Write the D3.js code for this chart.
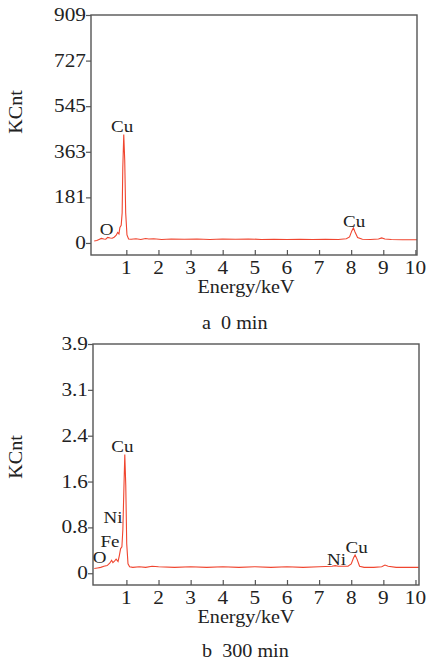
<!DOCTYPE html>
<html>
<head>
<meta charset="utf-8">
<script src="https://d3js.org/d3.v7.min.js"></script>
<style>
  body { margin: 0; background: #fff; }
</style>
</head>
<body>
<svg id="chart" width="427" height="664"></svg>
<script>
// ---- data ----
// panel a: 0 min
const energyA = [0, 0.08, 0.15, 0.22, 0.3, 0.36, 0.42, 0.5, 0.56, 0.62, 0.68, 0.73, 0.77, 0.8, 0.84, 0.87, 0.89, 0.92, 0.95, 0.98, 1.02, 1.07, 1.15, 1.3, 1.45, 1.6, 1.7, 1.85, 2.1, 2.4, 2.8, 3.2, 3.6, 4.0, 4.4, 4.8, 5.2, 5.6, 6.0, 6.4, 6.8, 7.2, 7.6, 7.85, 7.95, 8.02, 8.07, 8.12, 8.2, 8.35, 8.6, 8.85, 8.95, 9.05, 9.25, 9.6, 10.0, 10.05];
const countsA = [8, 10, 14, 18, 16, 15, 22, 20, 19, 23, 30, 42, 36, 62, 70, 120, 300, 432, 330, 120, 32, 16, 15, 17, 14, 18, 16, 17, 14, 16, 15, 16, 14, 16, 15, 16, 14, 15, 14, 15, 14, 15, 14, 17, 24, 48, 60, 44, 22, 15, 14, 16, 20, 16, 14, 13, 13, 13];

// panel b: 300 min
const energyB = [0, 0.1, 0.2, 0.3, 0.4, 0.48, 0.54, 0.58, 0.62, 0.68, 0.74, 0.78, 0.82, 0.86, 0.89, 0.92, 0.95, 0.98, 1.01, 1.05, 1.1, 1.2, 1.4, 1.6, 1.8, 2.0, 2.5, 3.0, 3.5, 4.0, 4.5, 5.0, 5.5, 6.0, 6.5, 7.0, 7.4, 7.5, 7.6, 7.9, 8.0, 8.07, 8.12, 8.18, 8.26, 8.4, 8.7, 8.95, 9.05, 9.15, 9.4, 9.8, 10.1];
const countsB = [0.08, 0.09, 0.1, 0.12, 0.13, 0.17, 0.22, 0.18, 0.2, 0.24, 0.2, 0.3, 0.42, 0.45, 0.75, 1.4, 2.02, 1.5, 0.5, 0.16, 0.11, 0.1, 0.11, 0.1, 0.12, 0.11, 0.1, 0.11, 0.1, 0.11, 0.1, 0.11, 0.1, 0.11, 0.1, 0.11, 0.12, 0.13, 0.12, 0.12, 0.16, 0.26, 0.31, 0.24, 0.12, 0.1, 0.1, 0.11, 0.14, 0.12, 0.1, 0.1, 0.1];

const xTicks = [1, 2, 3, 4, 5, 6, 7, 8, 9, 10];
const yTicksA = [0, 181.8, 363.6, 545.4, 727.2, 909];
const yLabelsA = ["0", "181", "363", "545", "727", "909"];
const yTicksB = [0, 0.78, 1.56, 2.34, 3.12, 3.9];
const yLabelsB = ["0", "0.8", "1.6", "2.4", "3.1", "3.9"];

// peak labels: text, energy (label centre), count (label baseline)
const peaksA = [["Cu", 0.87, 443], ["O", 0.39, 32], ["Cu", 8.09, 64]];
const peaksB = [["Cu", 0.875, 2.06], ["Ni", 0.58, 0.86], ["Fe", 0.49, 0.45], ["O", 0.17, 0.175], ["Ni", 7.54, 0.14], ["Cu", 8.17, 0.345]];

const svg = d3.select("#chart");
const serif = "Liberation Serif, Times New Roman, serif";

// the original type is a wide Times face, so stretch it a little
function txt(g, x, y, s, size, anchor, rot) {
  return g.append("text")
    .attr("transform", "translate(" + x + "," + y + ")" + (rot ? " rotate(-90)" : "") + " scale(1.12,1)")
    .attr("text-anchor", anchor)
    .attr("font-family", serif)
    .attr("font-size", size)
    .attr("fill", "#222")
    .style("white-space", "pre")
    .text(s);
}

function panel(opt) {
  const x = d3.scaleLinear().domain(opt.xDomain).range([opt.left, opt.right]);
  const y = d3.scaleLinear().domain(opt.yDomain).range([opt.bottom, opt.top]);
  const g = svg.append("g");

  // spectrum
  const line = d3.line().x((d, i) => x(opt.energy[i])).y(d => y(d));
  g.append("path")
    .datum(opt.counts)
    .attr("d", line)
    .attr("fill", "none")
    .attr("stroke", "#f0452f")
    .attr("stroke-width", 1.1);

  // frame
  g.append("rect")
    .attr("x", opt.left).attr("y", opt.top)
    .attr("width", opt.right - opt.left).attr("height", opt.bottom - opt.top)
    .attr("fill", "none").attr("stroke", "#555").attr("stroke-width", 1.4);

  // x axis, ticks pointing inside
  const xa = g.append("g")
    .attr("transform", "translate(0," + opt.bottom + ")")
    .call(d3.axisTop(x).tickValues(xTicks).tickSize(5).tickFormat(""));
  xa.select(".domain").remove();
  xa.selectAll("line").attr("stroke", "#555").attr("stroke-width", 1.2);
  xTicks.forEach(d => txt(g, x(d), opt.bottom + 19, String(d), 19, "middle"));

  // y axis, ticks outside
  const ya = g.append("g")
    .attr("transform", "translate(" + opt.left + ",0)")
    .call(d3.axisLeft(y).tickValues(opt.yTicks).tickSize(5).tickFormat(""));
  ya.select(".domain").remove();
  ya.selectAll("line").attr("stroke", "#555").attr("stroke-width", 1.2);
  opt.yTicks.forEach((d, i) => txt(g, opt.left - 5, y(d) + 6, opt.yLabels[i], 19, "end"));

  // peak labels
  opt.peaks.forEach(p => txt(g, x(p[1]), y(p[2]), p[0], 17, "middle"));

  // titles
  txt(g, 22, opt.yTitle, "KCnt", 18, "middle", true);
  txt(g, 246, opt.bottom + 38, "Energy/keV", 18, "middle");
  txt(g, 202, opt.caption, opt.captionText, 18, "start");
}

panel({
  energy: energyA, counts: countsA,
  xDomain: [-0.1, 10.05], yDomain: [-48, 909],
  left: 91, right: 417, top: 15, bottom: 255,
  yTicks: yTicksA, yLabels: yLabelsA, peaks: peaksA,
  yTitle: 112, caption: 329, captionText: "a  0 min"
});

panel({
  energy: energyB, counts: countsB,
  xDomain: [-0.04, 10.11], yDomain: [-0.2, 3.9],
  left: 93, right: 419, top: 344, bottom: 585,
  yTicks: yTicksB, yLabels: yLabelsB, peaks: peaksB,
  yTitle: 457, caption: 657, captionText: "b  300 min"
});
</script>
</body>
</html>
